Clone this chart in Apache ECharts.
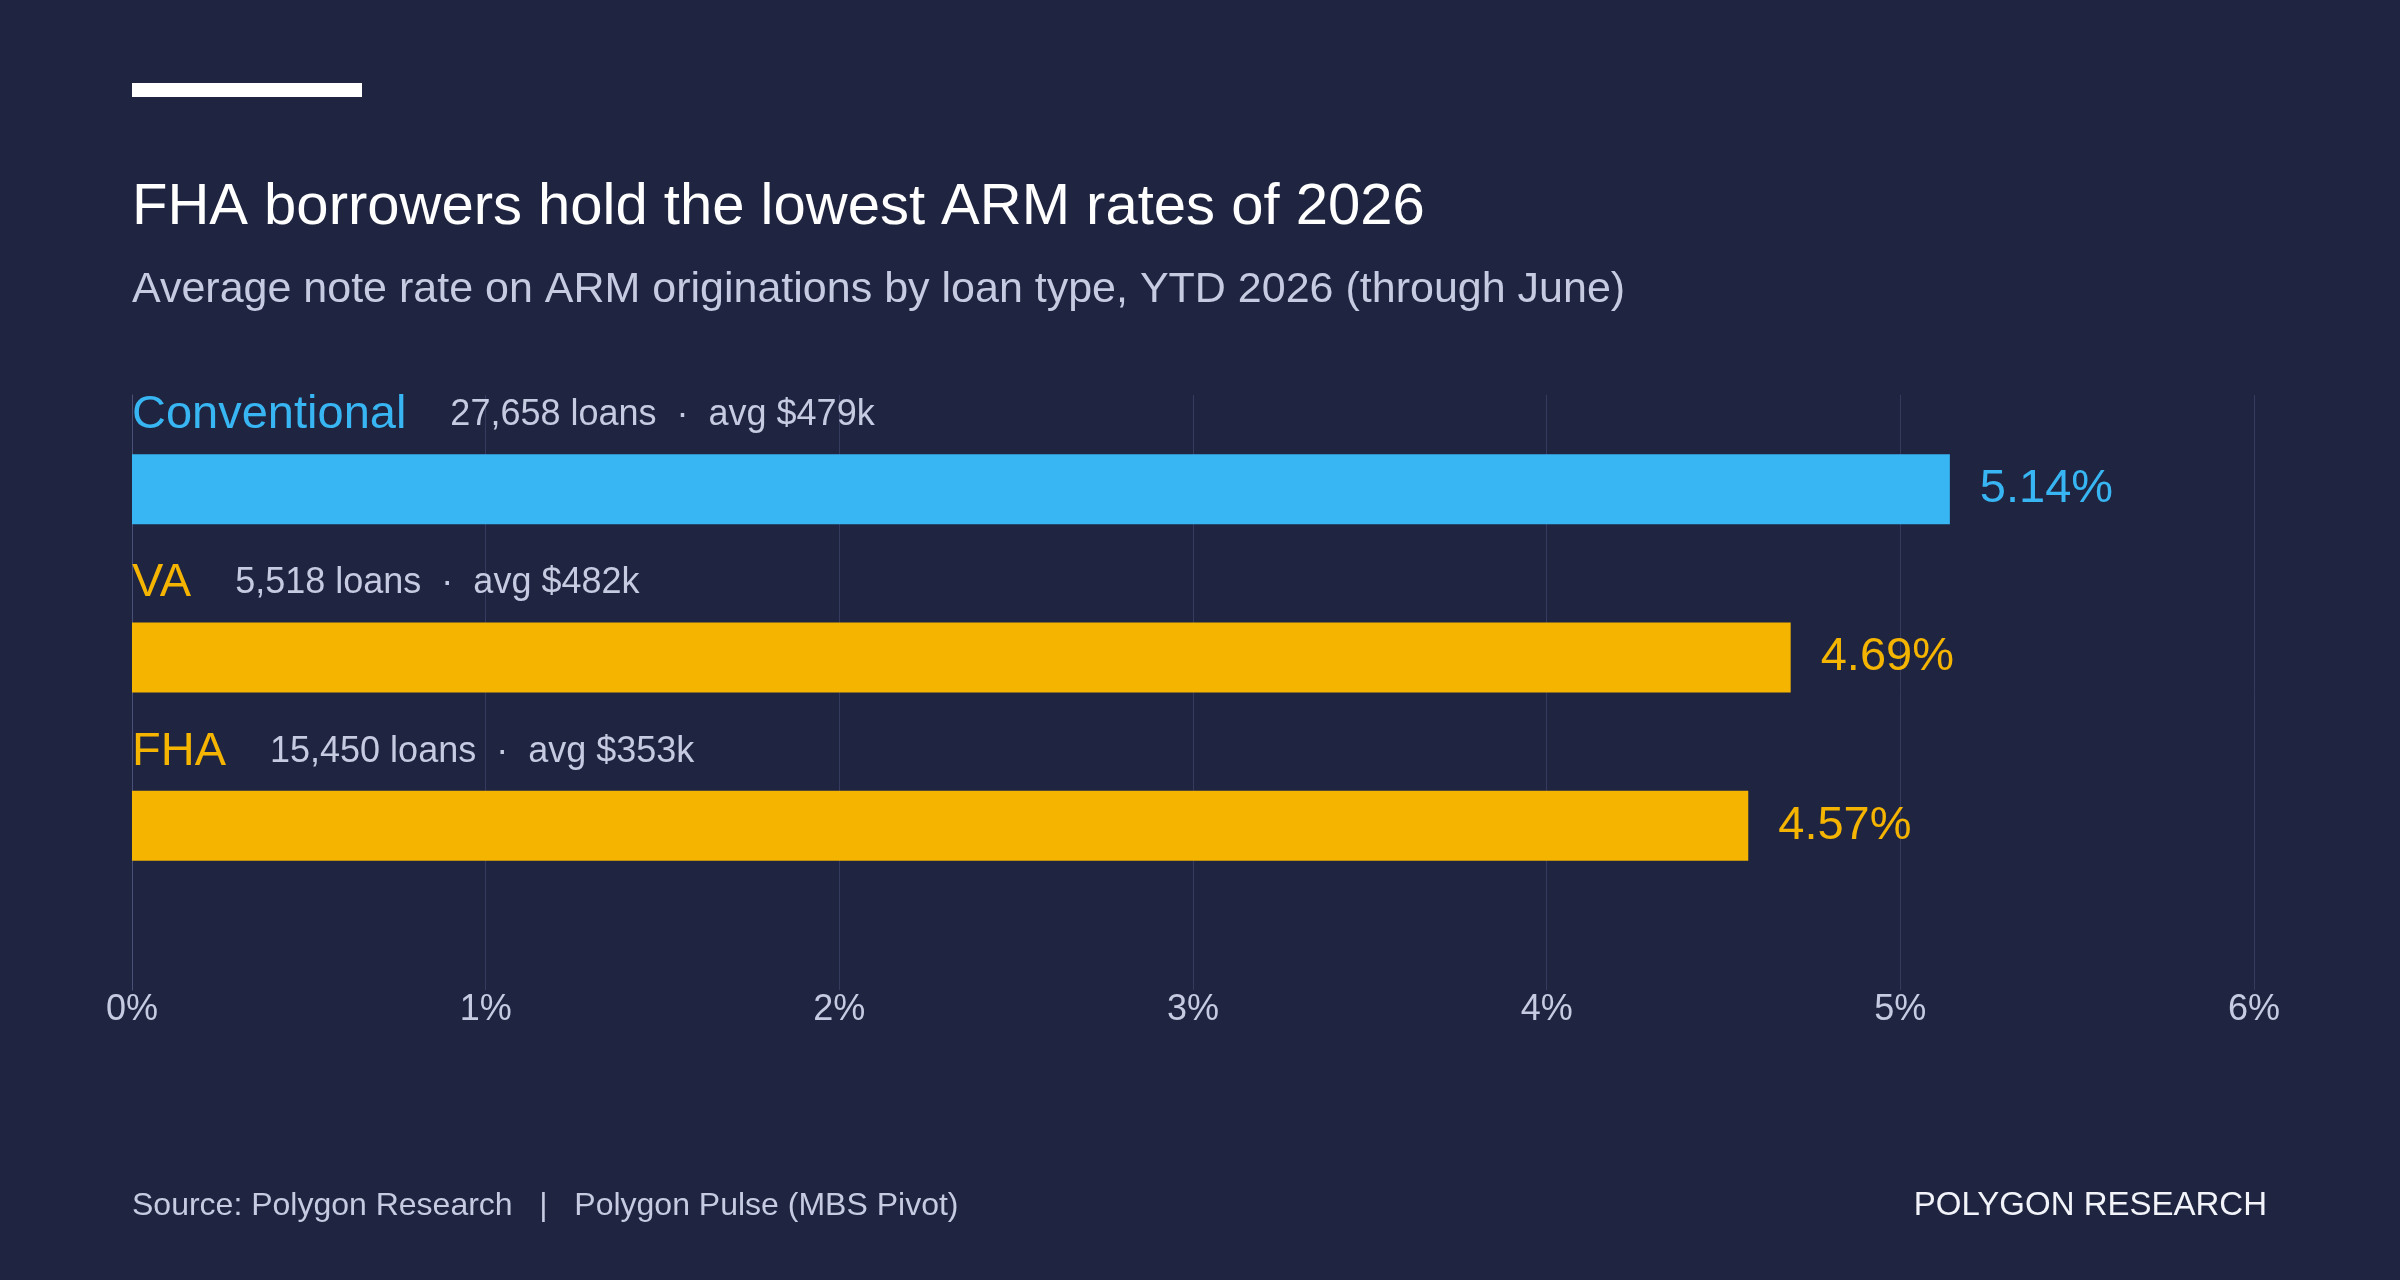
<!DOCTYPE html>
<html>
<head>
<meta charset="utf-8">
<title>ARM rates by loan type</title>
<script src="https://cdn.jsdelivr.net/npm/echarts@6/dist/echarts.min.js"></script>
<style>
  html, body { margin: 0; padding: 0; background: #1f2541; }
  #arm_chart { width: 2400px; height: 1280px; }
</style>
</head>
<body>
<div id="arm_chart"></div>
<script>
// data
var loanTypes = ['Conventional', 'VA', 'FHA'];
var avgRate = [5.14, 4.69, 4.57];
var loanCount = [27658, 5518, 15450];
var avgLoanK = [479, 482, 353];
var rateTicks = [0, 1, 2, 3, 4, 5, 6];

var BG = '#1f2541';
var BLUE = '#38b6f3';
var GOLD = '#f4b400';
var SOFT = '#c6cbe2';
var FONT = 'Liberation Sans';

function bar_color(name){
        return name == 'Conventional' ? BLUE : GOLD;
}

function arm_chart(){
        var chart = echarts.init(document.getElementById('arm_chart'));

        var barData = new Array();
        for (var i = 0; i < loanTypes.length; i++) {
                var c = bar_color(loanTypes[i]);
                barData.push({
                        value: avgRate[i],
                        itemStyle: { color: c },
                        label: { color: c }
                });
        }

        var option = {
                backgroundColor: BG,
                animation: false,
                textStyle: { fontFamily: FONT },
                grid: [
                        // axis + gridlines
                        { left: 132, right: 146, top: 395, bottom: 290 },
                        // bars
                        { left: 132, right: 146, top: 405, height: 505 }
                ],
                xAxis: [{
                        gridIndex: 0,
                        type: 'value',
                        min: rateTicks[0],
                        max: rateTicks[rateTicks.length - 1],
                        interval: 1,
                        axisLine: { show: false },
                        axisTick: { show: false },
                        splitLine: { show: true, lineStyle: { color: '#343b5f', width: 1 } },
                        axisLabel: {
                                formatter: '{value}%',
                                color: SOFT,
                                fontSize: 36,
                                fontFamily: FONT,
                                margin: 2
                        }
                }, {
                        gridIndex: 1,
                        type: 'value',
                        min: rateTicks[0],
                        max: rateTicks[rateTicks.length - 1],
                        show: false
                }],
                yAxis: [{
                        gridIndex: 0,
                        type: 'value',
                        min: 0,
                        max: 1,
                        axisLine: { show: true, lineStyle: { color: '#4a5179', width: 1 } },
                        axisTick: { show: false },
                        axisLabel: { show: false },
                        splitLine: { show: false }
                }, {
                        gridIndex: 1,
                        type: 'category',
                        inverse: true,
                        data: loanTypes,
                        axisLine: { show: false },
                        axisTick: { show: false },
                        axisLabel: {
                                inside: true,
                                margin: 0,
                                align: 'left',
                                verticalAlign: 'middle',
                                padding: [0, 0, 148, 0],
                                formatter: function (value, idx) {
                                        var meta = loanCount[idx].toLocaleString('en-US') + ' loans  \u00b7  avg $' + avgLoanK[idx] + 'k';
                                        var key = value == 'Conventional' ? 'nameBlue' : 'nameGold';
                                        return '{' + key + '|' + value + '}{meta|' + meta + '}';
                                },
                                rich: {
                                        nameBlue: { color: BLUE, fontSize: 47, fontFamily: FONT },
                                        nameGold: { color: GOLD, fontSize: 47, fontFamily: FONT },
                                        meta: { color: SOFT, fontSize: 36, fontFamily: FONT, padding: [0, 0, 0, 44] }
                                }
                        }
                }],
                series: [{
                        name: 'Average note rate',
                        type: 'bar',
                        xAxisIndex: 1,
                        yAxisIndex: 1,
                        barWidth: 70,
                        data: barData,
                        label: {
                                show: true,
                                position: 'right',
                                distance: 30,
                                fontSize: 47,
                                fontFamily: FONT,
                                formatter: function (p) { return p.value.toFixed(2) + '%'; }
                        }
                }],
                graphic: [
                        { type: 'rect', left: 132, top: 83, shape: { width: 230, height: 14 }, style: { fill: '#ffffff' } },
                        { type: 'text', x: 132, y: 208, style: {
                                text: 'FHA borrowers hold the lowest ARM rates of 2026',
                                fill: '#ffffff', fontSize: 58, fontFamily: FONT,
                                align: 'left', verticalAlign: 'middle' } },
                        { type: 'text', x: 132, y: 290, style: {
                                text: 'Average note rate on ARM originations by loan type, YTD 2026 (through June)',
                                fill: SOFT, fontSize: 43, fontFamily: FONT,
                                align: 'left', verticalAlign: 'middle' } },
                        { type: 'text', x: 132, y: 1206, style: {
                                text: 'Source: Polygon Research   |   Polygon Pulse (MBS Pivot)',
                                fill: SOFT, fontSize: 32, fontFamily: FONT,
                                align: 'left', verticalAlign: 'middle' } },
                        { type: 'text', x: 2267, y: 1206, style: {
                                text: 'POLYGON RESEARCH',
                                fill: '#f2f4fa', fontSize: 33, fontFamily: FONT,
                                align: 'right', verticalAlign: 'middle' } }
                ]
        };
        chart.setOption(option);
}

arm_chart();
</script>
</body>
</html>
